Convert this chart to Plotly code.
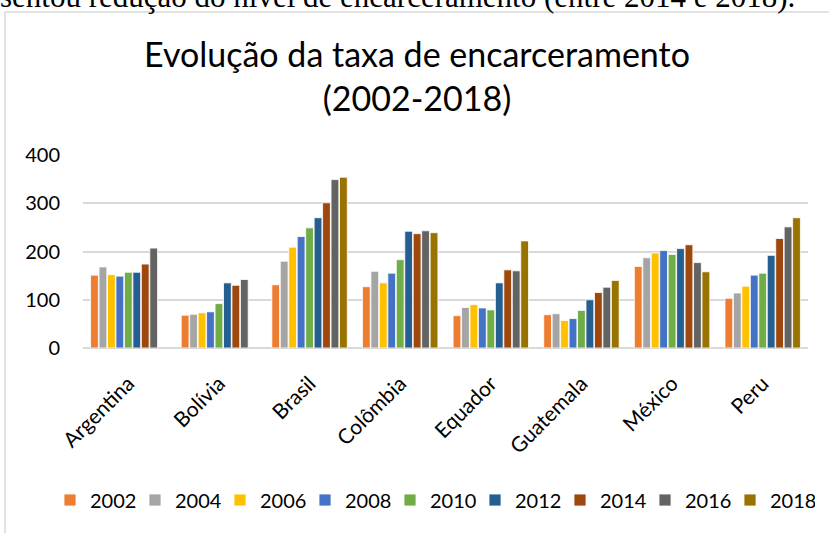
import plotly.graph_objects as go

countries = ["Argentina", "Bolívia", "Brasil", "Colômbia", "Equador", "Guatemala", "México", "Peru"]
years = ["2002", "2004", "2006", "2008", "2010", "2012", "2014", "2016", "2018"]

v2002 = [151, 68, 131, 127, 67, 69, 169, 103]
v2004 = [168, 70, 180, 159, 84, 71, 187, 114]
v2006 = [152, 73, 209, 135, 90, 57, 197, 128]
v2008 = [149, 75, 231, 155, 83, 61, 202, 151]
v2010 = [157, 92, 249, 183, 79, 78, 194, 155]
v2012 = [157, 135, 270, 242, 135, 100, 206, 192]
v2014 = [174, 130, 301, 237, 162, 115, 214, 227]
v2016 = [207, 142, 349, 243, 160, 126, 177, 251]
v2018 = [None, None, 354, 239, 222, 140, 158, 270]

series = [v2002, v2004, v2006, v2008, v2010, v2012, v2014, v2016, v2018]
colors = ["#ED7D31", "#A5A5A5", "#FFC000", "#4472C4", "#70AD47",
          "#255E91", "#9E480E", "#636363", "#997300"]

FONT = "Lato"

fig = go.Figure()
for yr, vals, col in zip(years, series, colors):
    fig.add_trace(go.Bar(
        x=countries, y=vals, name=yr,
        marker=dict(color=col, line=dict(color="white", width=0.8)),
    ))

W, H = 829, 533
ml, mr, mt, mb = 83, 21, 155, 185
pw, ph = W - ml - mr, H - mt - mb

def px_x(p):
    return (p - ml) / pw

def px_y(p):
    return 1 - (p - mt) / ph

fig.update_layout(
    width=W, height=H,
    margin=dict(l=ml, r=mr, t=mt, b=mb, autoexpand=False),
    paper_bgcolor="white", plot_bgcolor="white",
    barmode="group", bargap=0.16, bargroupgap=0.08,
    font=dict(family=FONT, color="#000000"),
    title=dict(
        text="Evolução da taxa de encarceramento<br>(2002-2018)",
        x=417 / W, xanchor="center", xref="container",
        y=1 - 67 / H, yanchor="top", yref="container",
        font=dict(family=FONT, size=34, color="#000000"),
    ),
    xaxis=dict(
        tickangle=-45, tickfont=dict(family=FONT, size=21, color="#000000"),
        showgrid=False, showline=False, ticks="outside", ticklen=14,
        tickcolor="rgba(0,0,0,0)", automargin=False,
    ),
    yaxis=dict(
        range=[0, 400], dtick=100, tickfont=dict(family=FONT, size=20, color="#000000"),
        gridcolor="#D9D9D9", gridwidth=1.5, zeroline=True, zerolinecolor="#D9D9D9",
        zerolinewidth=1.5, showline=False, ticks="", ticklabelstandoff=22,
        automargin=False,
    ),
    legend=dict(
        orientation="h", x=px_x(50), xanchor="left",
        y=px_y(500), yanchor="middle",
        font=dict(family=FONT, size=20, color="#000000"),
        entrywidth=40, entrywidthmode="pixels",
        itemwidth=30, tracegroupgap=0,
    ),
    showlegend=True,
)

# chart frame (left and top borders)
fig.add_shape(type="line", xref="paper", yref="paper",
              x0=px_x(5), x1=px_x(5), y0=px_y(12), y1=px_y(540),
              line=dict(color="#D9D9D9", width=1.5))
fig.add_shape(type="line", xref="paper", yref="paper",
              x0=px_x(5), x1=px_x(835), y0=px_y(12), y1=px_y(12),
              line=dict(color="#D9D9D9", width=1.5))

# cropped line of document text above the chart
fig.add_annotation(
    text="sentou redução do nível de encarceramento (entre 2014 e 2018).",
    xref="paper", yref="paper", x=px_x(-2), y=px_y(16),
    xanchor="left", yanchor="bottom", showarrow=False,
    font=dict(family="Liberation Serif", size=31, color="#000000"),
)

fig.write_html("out.html", config={"displayModeBar": False},
               post_script="document.body.style.margin='0';")
